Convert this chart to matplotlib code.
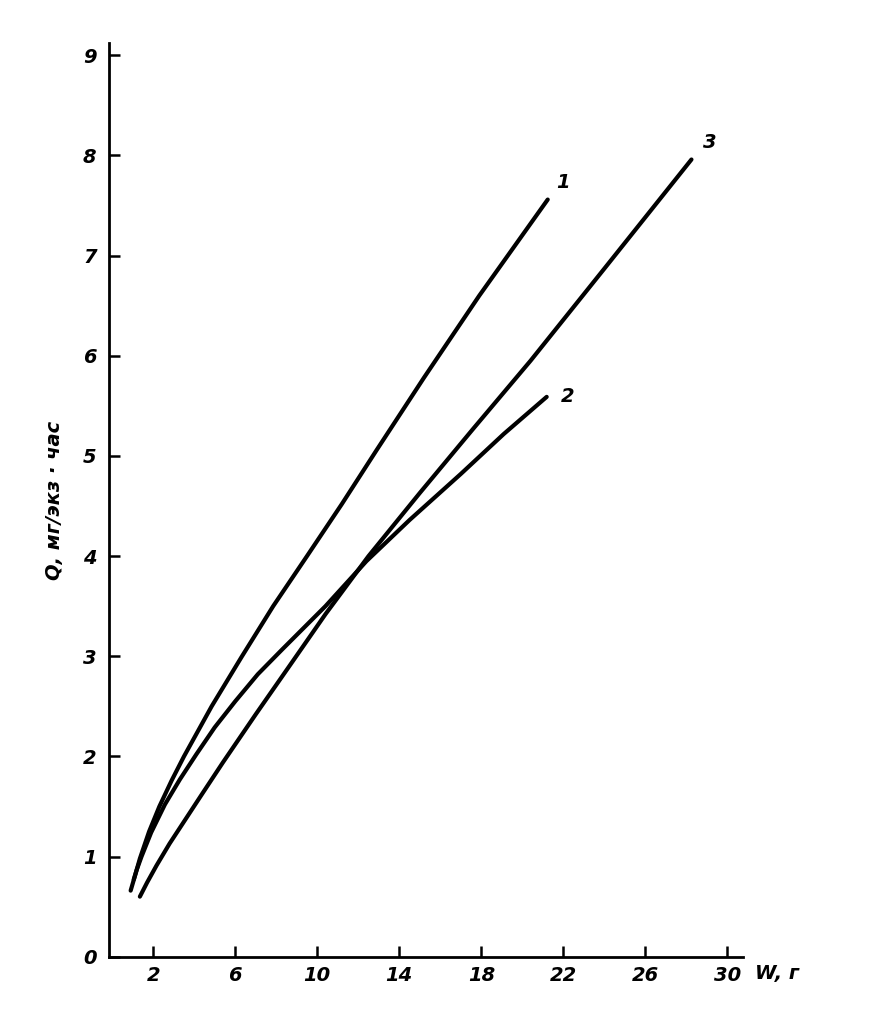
import matplotlib
matplotlib.use('Agg')
import matplotlib.pyplot as plt

# кривые 1, 2, 3 (W, г  ->  Q, мг/экз·час)
w1 = [0.9, 1.1, 1.35, 1.8, 2.3, 2.9, 3.5, 4.85, 6.3, 7.85, 9.5, 11.2, 12.9, 15.2, 17.9, 21.24]
q1 = [0.66, 0.8, 0.98, 1.25, 1.5, 1.76, 2.0, 2.5, 2.99, 3.5, 4.0, 4.52, 5.06, 5.78, 6.6, 7.56]

w2 = [1.05, 1.2, 1.43, 1.9, 2.57, 3.3, 4.1, 5.0, 6.0, 7.1, 8.3, 10.4, 12.4, 14.5, 17.0, 19.1, 21.19]
q2 = [0.77, 0.87, 1.0, 1.24, 1.52, 1.77, 2.02, 2.29, 2.55, 2.82, 3.07, 3.5, 3.95, 4.36, 4.82, 5.22, 5.59]

w3 = [1.35, 1.7, 2.16, 2.8, 3.6, 4.4, 5.4, 7.0, 8.6, 10.4, 12.5, 15.0, 17.6, 20.4, 24.0, 28.25]
q3 = [0.60, 0.74, 0.91, 1.13, 1.38, 1.63, 1.94, 2.42, 2.89, 3.42, 4.0, 4.63, 5.27, 5.95, 6.87, 7.96]

curves = [(w1, q1, '1'), (w2, q2, '2'), (w3, q3, '3')]
label_off = {'1': (6, 12), '2': (10, 0), '3': (8, 12)}

xticks = [2, 6, 10, 14, 18, 22, 26, 30]
yticks = [0, 1, 2, 3, 4, 5, 6, 7, 8, 9]

tfont = dict(family='DejaVu Sans', style='italic', weight='bold')

fig = plt.figure(figsize=(8.8, 10.24), dpi=100)
ax = fig.add_axes([0.124, 0.0657, 0.72, 0.892])

for w, q, name in curves:
    ax.plot(w, q, color='black', lw=3.0, solid_capstyle='round', solid_joinstyle='round')
    ax.annotate(name, (w[-1], q[-1]), xytext=label_off[name], textcoords='offset points',
                ha='left', va='center', fontsize=14, **tfont)

ax.set_xlim(-0.15, 30.75)
ax.set_ylim(0.0, 9.12)
ax.set_xticks(xticks)
ax.set_yticks(yticks)
ax.set_xticklabels([str(t) for t in xticks], fontsize=14, **tfont)
ax.set_yticklabels([str(t) for t in yticks], fontsize=14, **tfont)
ax.tick_params(direction='in', length=8, width=1.8, pad=9)
ax.tick_params(axis='x', pad=7)

for s in ['top', 'right']:
    ax.spines[s].set_visible(False)
for s in ['left', 'bottom']:
    ax.spines[s].set_linewidth(2.0)

ax.set_ylabel('Q, мг/экз · час', fontsize=14, labelpad=14, **tfont)
fig.text(755 / 880, 1 - 973 / 1024, 'W, г', ha='left', va='center', fontsize=14, **tfont)

fig.savefig('out.png', dpi=100)
